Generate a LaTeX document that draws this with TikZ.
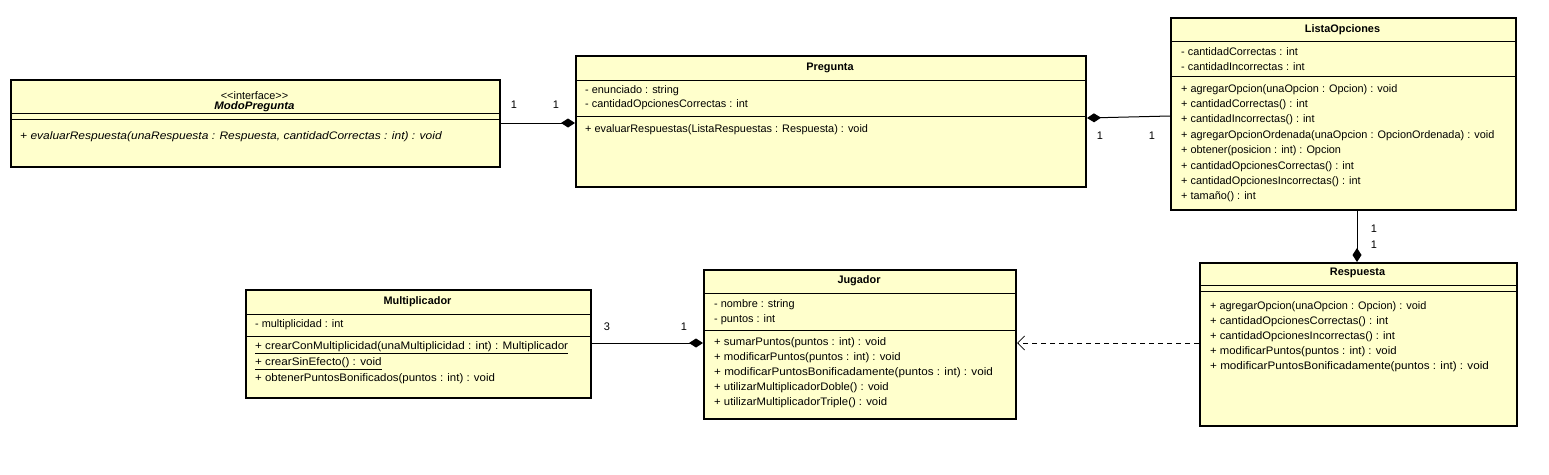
\documentclass[tikz,border=0pt]{standalone}
\usepackage{fontspec}
\setmainfont{Liberation Sans}
\usetikzlibrary{arrows.meta}
\definecolor{umlfill}{RGB}{255,255,204}
\newcommand{\hstretch}[2]{\scalebox{#1}[1]{#2}}
\tikzset{
  umlbox/.style={draw=black, line width=2pt, fill=umlfill, anchor=north west, inner sep=0pt},
  sep/.style={line width=1pt},
  txt/.style={anchor=west, inner sep=0pt, font=\fontsize{10.9}{12}\selectfont},
  ttl/.style={anchor=center, inner sep=0pt, font=\fontsize{10.9}{12}\selectfont\bfseries},
  mult/.style={anchor=center, inner sep=0pt, font=\fontsize{11}{12}\selectfont},
  comp/.style={line width=1pt, {Diamond[length=14pt,width=9pt]}-},
  dep/.style={line width=0.8pt, dash pattern=on 5pt off 4pt, -{Straight Barb[length=7pt,width=14pt,line width=0.8pt]}}
}
\begin{document}
\begin{tikzpicture}[x=1pt,y=-1pt]
\useasboundingbox[fill=white] (0,0) rectangle (1549,474);

% ModoPregunta
\node[umlbox, minimum width=489pt, minimum height=87pt] (modo) at (10,79) {};
\draw[sep] (10,113) -- (499,113);
\draw[sep] (10,119) -- (499,119);
\node[txt, anchor=center] (modoS) at (254.5,96) {<{}<interface>{}>};
\node[ttl, font=\fontsize{10.9}{12}\selectfont\bfseries\itshape] (modoT) at (254.5,107) {\hstretch{1.05}{ModoPregunta}};
\node[txt] (modoM1) at (20,137) {\hstretch{1.1}{\itshape + evaluarRespuesta(unaRespuesta : Respuesta, cantidadCorrectas : int) : void}};

% Pregunta
\node[umlbox, minimum width=510pt, minimum height=131pt] (preg) at (575,55) {};
\draw[sep] (575,80) -- (1085,80);
\draw[sep] (575,116) -- (1085,116);
\node[ttl] (pregT) at (830,68) {Pregunta};
\node[txt] (pregA1) at (585,91) {- enunciado : string};
\node[txt] (pregA2) at (585,105) {- cantidadOpcionesCorrectas : int};
\node[txt] (pregM1) at (585,130) {+ evaluarRespuestas(ListaRespuestas : Respuesta) : void};

% ListaOpciones
\node[umlbox, minimum width=345pt, minimum height=192pt] (lista) at (1170,17) {};
\draw[sep] (1170,41) -- (1515,41);
\draw[sep] (1170,76) -- (1515,76);
\node[ttl] (listaT) at (1342.5,30) {ListaOpciones};
\node[txt] (listaA1) at (1181,52) {- cantidadCorrectas : int};
\node[txt] (listaA2) at (1181,67) {- cantidadIncorrectas : int};
\node[txt] (listaM1) at (1181,90) {+ agregarOpcion(unaOpcion : Opcion) : void};
\node[txt] (listaM2) at (1181,105) {+ cantidadCorrectas() : int};
\node[txt] (listaM3) at (1181,120) {+ cantidadIncorrectas() : int};
\node[txt] (listaM4) at (1181,136) {+ agregarOpcionOrdenada(unaOpcion : OpcionOrdenada) : void};
\node[txt] (listaM5) at (1181,151) {+ obtener(posicion : int) : Opcion};
\node[txt] (listaM6) at (1181,167) {+ cantidadOpcionesCorrectas() : int};
\node[txt] (listaM7) at (1181,182) {+ cantidadOpcionesIncorrectas() : int};
\node[txt] (listaM8) at (1181,197) {+ tamaño() : int};

% Respuesta
\node[umlbox, minimum width=317pt, minimum height=163pt] (resp) at (1199,262) {};
\draw[sep] (1199,285) -- (1516,285);
\draw[sep] (1199,291) -- (1516,291);
\node[ttl] (respT) at (1357.5,273) {Respuesta};
\node[txt] (respM1) at (1210,307) {+ agregarOpcion(unaOpcion : Opcion) : void};
\node[txt] (respM2) at (1210,322) {\hstretch{1.03}{+ cantidadOpcionesCorrectas() : int}};
\node[txt] (respM3) at (1210,337) {\hstretch{1.03}{+ cantidadOpcionesIncorrectas() : int}};
\node[txt] (respM4) at (1210,352) {\hstretch{1.04}{+ modificarPuntos(puntos : int) : void}};
\node[txt] (respM5) at (1210,367) {\hstretch{1.07}{+ modificarPuntosBonificadamente(puntos : int) : void}};

% Jugador
\node[umlbox, minimum width=312pt, minimum height=149pt] (jug) at (703,269) {};
\draw[sep] (703,293) -- (1015,293);
\draw[sep] (703,330) -- (1015,330);
\node[ttl] (jugT) at (859,281) {Jugador};
\node[txt] (jugA1) at (714,305) {- nombre : string};
\node[txt] (jugA2) at (714,320) {- puntos : int};
\node[txt] (jugM1) at (714,343) {\hstretch{1.04}{+ sumarPuntos(puntos : int) : void}};
\node[txt] (jugM2) at (714,358) {\hstretch{1.04}{+ modificarPuntos(puntos : int) : void}};
\node[txt] (jugM3) at (714,373) {\hstretch{1.07}{+ modificarPuntosBonificadamente(puntos : int) : void}};
\node[txt] (jugM4) at (714,388) {\hstretch{1.04}{+ utilizarMultiplicadorDoble() : void}};
\node[txt] (jugM5) at (714,403) {\hstretch{1.04}{+ utilizarMultiplicadorTriple() : void}};

% Multiplicador
\node[umlbox, minimum width=345pt, minimum height=108pt] (mul) at (245,289) {};
\draw[sep] (245,314) -- (590,314);
\draw[sep] (245,336) -- (590,336);
\node[ttl] (mulT) at (417.5,302) {Multiplicador};
\node[txt] (mulA1) at (255,325) {- multiplicidad : int};
\node[txt] (mulM1) at (255,348) {\hstretch{1.07}{\underline{+ crearConMultiplicidad(unaMultiplicidad : int) : Multiplicador}}};
\node[txt] (mulM2) at (255,364) {\hstretch{1.07}{\underline{+ crearSinEfecto() : void}}};
\node[txt] (mulM3) at (255,379) {\hstretch{1.05}{+ obtenerPuntosBonificados(puntos : int) : void}};

% Connectors
\draw[comp] (preg.west |- 0,123) -- (modo.east |- 0,123);
\node[mult] (m1) at (514,105) {1};
\node[mult] (m2) at (556,105) {1};

\draw[comp] (preg.east |- 0,118) -- (lista.west |- 0,116);
\node[mult] (m3) at (1100,136) {1};
\node[mult] (m4) at (1152,136) {1};

\draw[comp] (resp.north -| 1357,0) -- (lista.south -| 1357,0);
\node[mult] (m5) at (1374,229) {1};
\node[mult] (m6) at (1374,245) {1};

\draw[comp] (jug.west |- 0,343) -- (mul.east |- 0,343);
\node[mult] (m7) at (607,327) {3};
\node[mult] (m8) at (684,327) {1};

\draw[dep] (resp.west |- 0,343) -- (jug.east |- 0,343);
\end{tikzpicture}
\end{document}
